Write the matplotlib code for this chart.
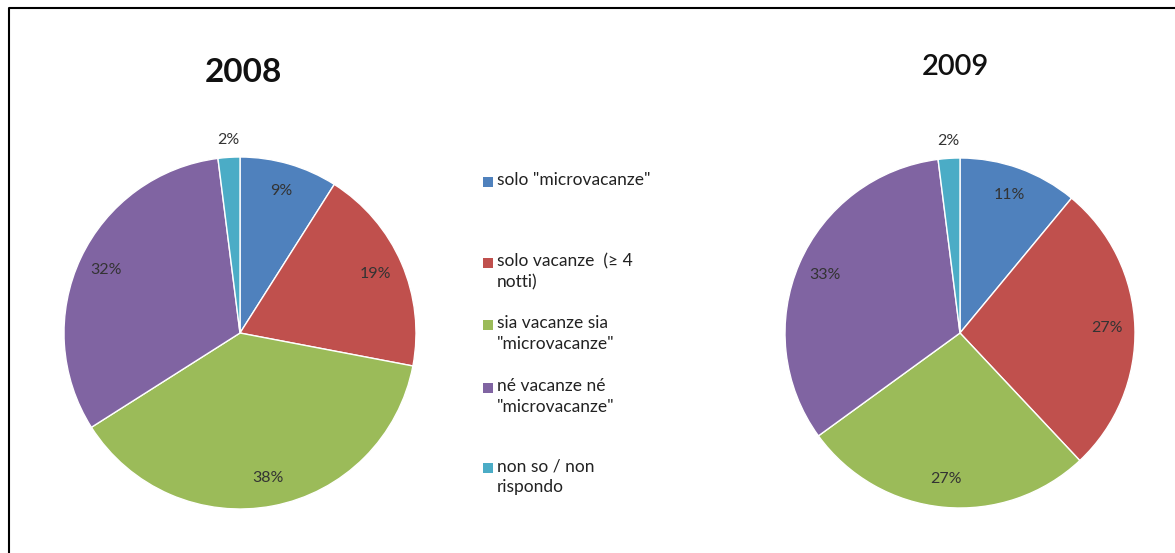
import numpy as np
import matplotlib.pyplot as plt
from matplotlib.lines import Line2D
from matplotlib.patches import Rectangle

plt.rcParams['font.family'] = ['Lato', 'DejaVu Sans']

categories = [
    'solo "microvacanze"',
    'solo vacanze  (\u2265 4\nnotti)',
    'sia vacanze sia\n"microvacanze"',
    'né vacanze né\n"microvacanze"',
    'non so / non\nrispondo',
]
values_2008 = [9, 19, 38, 32, 2]
values_2009 = [11, 27, 27, 33, 2]
colors = ['#4F81BD', '#C0504D', '#9BBB59', '#8064A2', '#4BACC6']

W, H = 1175, 553
fig = plt.figure(figsize=(W / 100, H / 100), dpi=100)


def draw_pie(cx, cy, r, values, title, tx, ty, size, weight):
    ax = fig.add_axes([(cx - r) / W, (H - cy - r) / H, 2 * r / W, 2 * r / H])
    wedges, texts, autotexts = ax.pie(
        values, colors=colors, startangle=90, counterclock=False,
        autopct=lambda p: f'{p:.0f}%', pctdistance=0.84,
        wedgeprops=dict(edgecolor='white', linewidth=1),
        textprops=dict(fontsize=11.5, color='#333333'))
    # small slices get their label outside the pie
    for w, t, v in zip(wedges, autotexts, values):
        if v < 5:
            ang = np.deg2rad((w.theta1 + w.theta2) / 2)
            t.set_position((1.1 * np.cos(ang), 1.1 * np.sin(ang)))
    ax.set_xlim(-1, 1)
    ax.set_ylim(-1, 1)
    ax.set_aspect('equal')
    ax.axis('off')
    fig.text(tx / W, 1 - ty / H, title, ha='center', va='center',
             fontsize=size, fontweight=weight, color='#111111')
    return wedges


draw_pie(240, 333, 176, values_2008, '2008', 243, 72, 24, 'bold')
draw_pie(960, 333, 175, values_2009, '2009', 955, 67, 21, 'semibold')

# legend rows (first-line centre, in pixels from the top)
legend_rows = [182, 263, 325, 388, 468]
for label, col, y in zip(categories, colors, legend_rows):
    fig.add_artist(Rectangle((483 / W, 1 - (y + 5) / H), 10 / W, 10 / H,
                             facecolor=col, edgecolor='none'))
    fig.text(497 / W, 1 - (y - 10) / H, label, ha='left', va='top',
             fontsize=12.5, color='#222222', linespacing=1.42)

# frame lines along top and left
fig.add_artist(Line2D([8.5 / W, 8.5 / W, 1], [0, 1 - 7.5 / H, 1 - 7.5 / H],
                      color='black', linewidth=1.5))

fig.savefig('out.png', dpi=100, facecolor='white')
